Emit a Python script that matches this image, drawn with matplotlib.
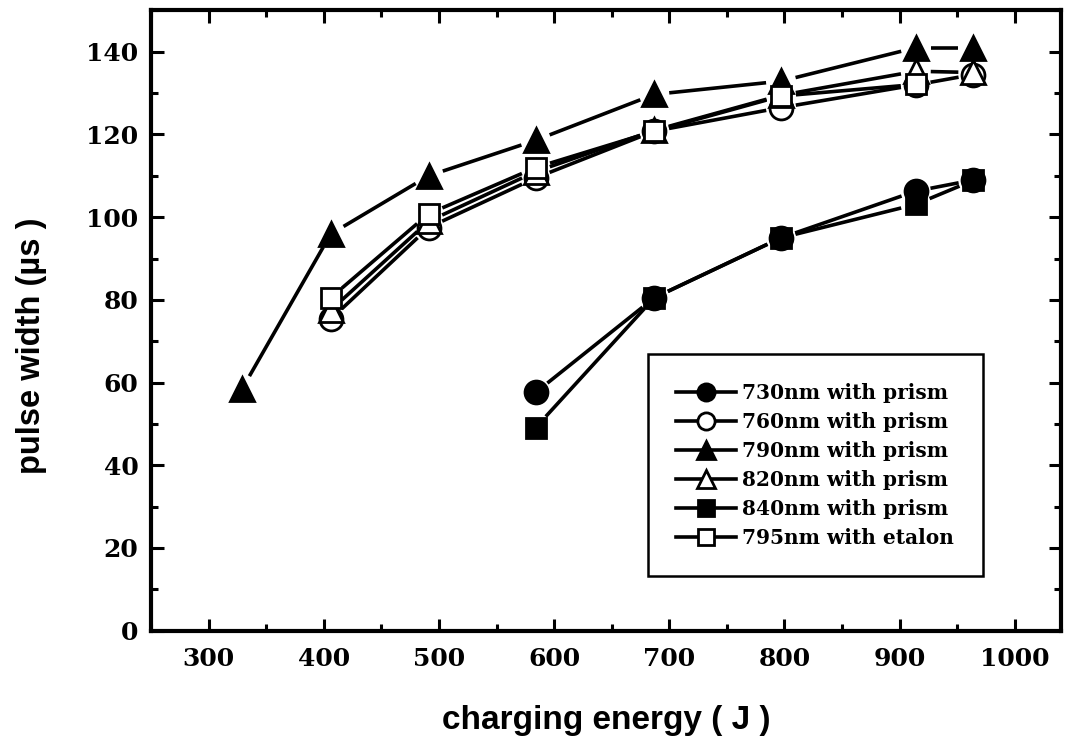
import matplotlib
matplotlib.use("Agg")
import numpy as np
import matplotlib.pyplot as plt
from matplotlib.lines import Line2D
from matplotlib.ticker import MultipleLocator

# Charging energies (J)
energy_all = [329, 406, 491, 584, 687, 797, 914, 964]
energy_760 = [406, 491, 584, 687, 797, 914, 964]
energy_820 = [406, 491, 584, 687, 797, 914, 964]
energy_795 = [406, 491, 584, 687, 797, 914]
energy_low = [584, 687, 797, 914, 964]

# Pulse widths (us)
width_730 = [57.6, 80.5, 95.0, 106.3, 109.0]
width_760 = [75.3, 97.5, 109.5, 120.8, 126.5, 132.0, 134.5]
width_790 = [58.4, 95.9, 110.0, 118.6, 129.7, 132.9, 141.0, 141.0]
width_820 = [77.5, 99.0, 111.0, 121.0, 129.5, 135.3, 135.0]
width_840 = [49.1, 80.5, 95.0, 103.1, 108.9]
width_795 = [80.5, 100.8, 112.0, 120.8, 129.3, 132.1]

labels = ["730nm with prism", "760nm with prism", "790nm with prism",
          "820nm with prism", "840nm with prism", "795nm with etalon"]

serif_bold = dict(family="DejaVu Serif", weight="bold")
sans_bold = dict(family="Liberation Sans", weight="bold")

fig = plt.figure(figsize=(10.73, 7.48), dpi=100)
ax = fig.add_axes([0.1407, 0.157, 0.848, 0.829])
ax.set_xlim(250, 1040)
ax.set_ylim(0, 150)

LW = 2.6
GAP_PX = 15.0  # connecting lines stop short of each marker by this many pixels


def gapped_line(x, y):
    """Draw the connecting segments of a series, leaving a gap at each marker."""
    pts = ax.transData.transform(np.column_stack([x, y]))
    inv = ax.transData.inverted()
    for p0, p1 in zip(pts[:-1], pts[1:]):
        d = p1 - p0
        L = np.hypot(*d)
        if L <= 2 * GAP_PX:
            continue
        u = d / L
        seg = inv.transform(np.vstack([p0 + u * GAP_PX, p1 - u * GAP_PX]))
        ax.plot(seg[:, 0], seg[:, 1], color="black", lw=LW,
                solid_capstyle="butt")


series = [
    (energy_low, width_730, "o", "black", 16.5, labels[0]),
    (energy_760, width_760, "o", "white", 16.5, labels[1]),
    (energy_all, width_790, "^", "black", 17.5, labels[2]),
    (energy_820, width_820, "^", "white", 17.5, labels[3]),
    (energy_low, width_840, "s", "black", 15.0, labels[4]),
    (energy_795, width_795, "s", "white", 15.0, labels[5]),
]
handles = []
for x, y, m, fc, ms, lab in series:
    gapped_line(x, y)
    ax.plot(x, y, linestyle="none", marker=m, markersize=ms,
            markerfacecolor=fc, markeredgecolor="black", markeredgewidth=2.0)
    handles.append(Line2D([], [], color="black", lw=LW, marker=m,
                          markersize=ms * 0.75, markerfacecolor=fc,
                          markeredgecolor="black", markeredgewidth=2.0,
                          label=lab))

ax.xaxis.set_major_locator(MultipleLocator(100))
ax.xaxis.set_minor_locator(MultipleLocator(50))
ax.yaxis.set_major_locator(MultipleLocator(20))
ax.yaxis.set_minor_locator(MultipleLocator(10))
ax.set_yticks(range(0, 141, 20))
ax.set_xlim(250, 1040)
ax.set_ylim(0, 150)

for s in ax.spines.values():
    s.set_linewidth(3.0)
ax.tick_params(which="both", direction="in", top=True, right=True, width=2.2)
ax.tick_params(which="major", length=9)
ax.tick_params(which="minor", length=5)
ax.tick_params(axis="x", which="major", pad=12)
ax.tick_params(axis="y", which="major", pad=9)

for lab in ax.get_xticklabels() + ax.get_yticklabels():
    lab.set_fontfamily("DejaVu Serif")
    lab.set_fontweight("bold")
    lab.set_fontsize(18)

ax.set_xlabel("charging energy ( J )", fontsize=24, labelpad=24, **sans_bold)
ax.set_ylabel("pulse width (\u00b5s )", fontsize=23.5, **sans_bold)
ax.yaxis.set_label_coords(-0.114, 0.46)

leg = ax.legend(handles=handles, loc="center", bbox_to_anchor=(0.73, 0.2665),
                frameon=True, fancybox=False, edgecolor="black", framealpha=1,
                prop=dict(size=14.5, **serif_bold), handlelength=3.0,
                handletextpad=0.3, labelspacing=0.45, borderpad=1.4,
                numpoints=1)
leg.get_frame().set_linewidth(1.8)

fig.savefig("out.png", dpi=100)
